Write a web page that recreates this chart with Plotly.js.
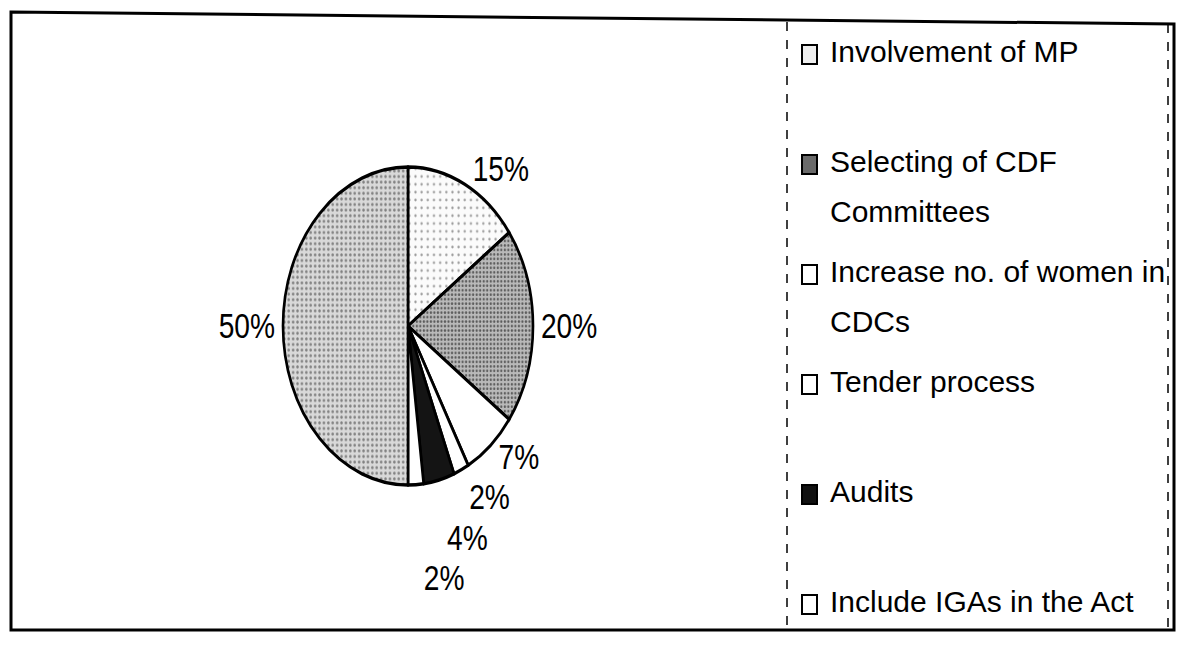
<!DOCTYPE html>
<html>
<head>
<meta charset="utf-8">
<script src="https://cdn.plot.ly/plotly-3.0.1.min.js"></script>
<style>
  html, body { margin: 0; padding: 0; background: #ffffff; }
  #chart { width: 1183px; height: 646px; }
  .pielayer path.textline { display: none; }
</style>
</head>
<body>
<div id="chart"></div>
<script>
// ---- data ----
const labels = [
  "Involvement of MP",
  "Selecting of CDF Committees",
  "Increase no. of women in CDCs",
  "Tender process",
  "Audits",
  "Include IGAs in the Act",
  "Other"
];
const values = [15, 20, 7, 2, 4, 2, 50];

// ---- styling ----
const sliceColors   = ["#fbfbfb", "#b9b9b9", "#ffffff", "#ffffff", "#141414", "#ffffff", "#d9d9d9"];
const slicePatterns = [".", ".", "", "", "", "", "."];
const patternFg     = ["#9c9c9c", "#5a5a5a", "#000000", "#000000", "#000000", "#000000", "#808080"];
const patternSize   = [7, 4, 6, 6, 6, 6, 5];
const patternSolid  = [0.1, 0.3, 0.2, 0.2, 0.2, 0.2, 0.25];
const legendSwatch  = ["#eeeeee", "#6a6a6a", "#ffffff", "#ffffff", "#111111", "#ffffff", "#d4d4d4"];

const W = 1183, H = 646;
const FONT = "'Liberation Sans Narrow', 'Arial Narrow', 'Liberation Sans', Arial, sans-serif";
const px = x => x / W;
const py = y => 1 - y / H;

// pie placement (the reference pie is an upright ellipse)
const cx = 408, cy = 326, D = 284;
const sx = 250 / D, sy = 318 / D;

const trace = {
  type: "pie",
  labels: labels,
  values: values,
  sort: false,
  direction: "clockwise",
  rotation: 0,
  textinfo: "percent",
  textposition: "outside",
  texttemplate: "%{percent:.0%}",
  outsidetextfont: { family: FONT, size: 32, color: "#000000" },
  hoverinfo: "label+percent",
  marker: {
    colors: sliceColors,
    line: { color: "#000000", width: 3 },
    pattern: {
      shape: slicePatterns, fgcolor: patternFg, bgcolor: sliceColors,
      size: patternSize, solidity: patternSolid, fillmode: "replace"
    }
  },
  domain: { x: [px(cx - D / 2), px(cx + D / 2)], y: [py(cy + D / 2), py(cy - D / 2)] },
  showlegend: false
};

// ---- hand-drawn legend (as in the reference, the last entry falls outside the frame) ----
function wrap(text, maxChars) {
  const words = text.split(" ");
  const lines = [];
  let cur = "";
  for (const w of words) {
    const next = cur ? cur + " " + w : w;
    if (next.length > maxChars && cur) { lines.push(cur); cur = w; }
    else cur = next;
  }
  if (cur) lines.push(cur);
  return lines;
}

const annotations = [];
const shapes = [];

const legTop = 51, legStep = 110, lineStep = 50;
labels.forEach((lab, i) => {
  const yc = legTop + i * legStep;
  if (yc > 615) return; // cut off by the frame
  wrap(lab, 24).forEach((ln, k) => {
    annotations.push({
      xref: "paper", yref: "paper",
      x: px(828), y: py(yc + k * lineStep),
      xanchor: "left", yanchor: "middle",
      text: ln, showarrow: false,
      font: { family: FONT, size: 30, color: "#000000" }
    });
  });
  shapes.push({
    type: "rect", xref: "paper", yref: "paper",
    x0: px(802), x1: px(817), y0: py(yc - 6), y1: py(yc + 13),
    fillcolor: legendSwatch[i], line: { color: "#000000", width: 2 }
  });
});

// frame and legend box lines
shapes.push({
  type: "path", xref: "paper", yref: "paper",
  path: `M ${px(11)} ${py(12)} L ${px(1174)} ${py(24)} L ${px(1174)} ${py(630)} L ${px(11)} ${py(630)} Z`,
  line: { color: "#000000", width: 3 }, fillcolor: "rgba(0,0,0,0)"
});
shapes.push({
  type: "line", xref: "paper", yref: "paper",
  x0: px(787), x1: px(787), y0: py(22), y1: py(630),
  line: { color: "#000000", width: 1.5, dash: "dash" }
});
shapes.push({
  type: "line", xref: "paper", yref: "paper",
  x0: px(1168), x1: px(1168), y0: py(24), y1: py(630),
  line: { color: "#000000", width: 1.5, dash: "dash" }
});

const layout = {
  width: W, height: H,
  margin: { l: 0, r: 0, t: 0, b: 0 },
  paper_bgcolor: "#ffffff",
  font: { family: FONT, color: "#000000" },
  showlegend: false,
  annotations: annotations,
  shapes: shapes
};

Plotly.newPlot("chart", [trace], layout, { displayModeBar: false, staticPlot: true }).then(gd => {
  // stretch the pie into the upright ellipse of the reference, about its centre
  const g = gd.querySelector(".pielayer");
  if (g) g.setAttribute("transform",
    `translate(${cx},${cy}) scale(${sx},${sy}) translate(${-cx},${-cy})`);
});
</script>
</body>
</html>
